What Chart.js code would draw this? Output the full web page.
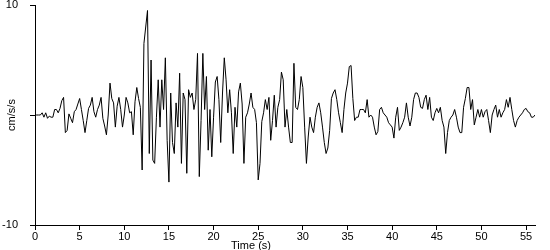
<!DOCTYPE html>
<html>
<head>
<meta charset="utf-8">
<script src="https://cdn.jsdelivr.net/npm/chart.js@4"></script>
<style>
  html, body { margin: 0; padding: 0; background: #fff; }
  #wrap { width: 550px; height: 250px; }
</style>
</head>
<body>
<div id="wrap"><canvas id="quake"></canvas></div>
<script>
// sample step of the record (seconds)
var dt = 0.2;

// ground acceleration, cm/s/s, one value every dt
var accel = [
  0, 0, 0, 0, 0.2, -0.2, 0.2, -0.3, -0.1, -0.2,
  -0.2, 0.5, 0.5, 0.2, 0.6, 1.3, 1.6, -1.6, -1.4, 0.1,
  -0.3, -0.7, 0.3, 0.5, 1.0, 1.5, 0.5, -0.5, -1.6, -0.5,
  0.6, 0.9, 1.6, 0.3, -0.2, 0.5, 0.9, 1.6, -0.3, -1.0,
  -1.8, 0, 2.9, 1.5, 1.1, -1.1, 0.8, 1.6, 0.5, -1.1,
  0, 1.6, 1.1, 0.2, 0.3, -1.8, 1.2, 2.5, 1.5, 0.7,
  -5.0, 6.5, 8.0, 9.5, -3.5, 5.0, -4.1, -4.4, -0.2, 3.2,
  -1.1, 3.2, 0.5, 5.2, -2.3, -6.1, 2.0, -2.5, -3.5, 1.1,
  -1.1, 3.8, -4.4, 2.0, 1.4, -5.3, 2.3, 1.6, 2.0, 0.5,
  1.4, 5.6, -5.6, -0.5, 5.6, 0.5, 3.5, -3.2, 0.5, -3.8,
  -0.2, 3.0, 3.5, 1.4, -2.5, 2.0, 5.2, 3.2, 0.2, 2.3,
  0.2, -3.5, 0.7, -1.1, 2.1, 2.9, 1.0, -4.4, -0.2, 0.2,
  1.0, 2.0, 0.7, 0.5, -0.7, -5.9, -4.4, -0.6, 0.2, 1.4,
  0.5, 1.6, -2.3, -0.5, 1.8, -1.1, 0.7, 1.4, 3.9, 3.2,
  -1.1, 0.5, -1.1, -2.5, -2.5, 4.7, 0.7, 0.5, 1.4, 3.5,
  2.5, -1.1, -4.4, -2.0, -0.2, -1.1, -1.6, -0.2, 0.7, 1.1,
  0.2, -1.1, -2.5, -3.5, -3.0, -1.4, 1.5, 2.0, 2.3, 1.4,
  0.2, -0.7, -1.6, 0.5, 2.0, 2.9, 4.4, 4.5, 1.5, -0.5,
  -0.2, -0.2, 0.5, 0.5, 0.5, 0.2, 1.4, -0.2, 0, -0.2,
  -1.1, -1.8, -1.5, 0.5, 0.7, 0.2, 0, -0.2, -0.7, -0.9,
  -1.1, -2.1, -0.2, 0.7, -1.4, -1.1, -0.7, -0.2, 1.1, -0.2,
  -1.0, -0.2, 1.4, 2.0, 2.0, 1.6, 0.7, 0.6, 1.4, 1.8,
  0.5, 1.6, -0.2, -0.5, 0.2, 0.6, 0.2, 0.7, -0.5, -1.1,
  -3.5, -1.6, -0.5, -0.2, 0, 0.5, -0.2, -1.1, -1.6, -1.6,
  0.7, 1.5, 2.5, 2.5, 0.5, 1.4, -0.9, -0.2, 0.5, -0.2,
  0.5, -0.2, 0.3, 0.5, -0.5, -1.6, 0, 0.5, 0.9, -0.2,
  0.5, -0.2, 0.2, 0.5, 1.4, 0.7, 1.6, 0.5, -0.5, -1.1,
  -0.5, -0.2, 0, 0.2, 0.5, 0.6, 0.3, 0.2, -0.2, -0.2, 0
];

var x_ticks = [0, 5, 10, 15, 20, 25, 30, 35, 40, 45, 50, 55];
var y_ticks = [-10, 0, 10];
var y_labels = ["-10", "", "10"];
var x_title = "Time (s)";
var y_title = "cm/s/s";

var points = [];
for (var i = 0; i < accel.length; i++) {
  points.push({ x: Math.round(i * dt * 100) / 100, y: accel[i] });
}

var font_fam = "'Liberation Sans', Arial, sans-serif";
Chart.defaults.font.family = font_fam;
Chart.defaults.font.size = 11;
Chart.defaults.color = "#000";

// axis titles drawn by hand so they sit where the original has them
var axis_titles = {
  id: "axis_titles",
  afterDraw: function (chart) {
    var c = chart.ctx;
    c.save();
    c.fillStyle = "#000";
    c.font = "11px " + font_fam;
    c.textAlign = "center";
    c.textBaseline = "middle";
    c.fillText(x_title, 251, 246);
    c.translate(12, chart.chartArea.top + (chart.chartArea.bottom - chart.chartArea.top) / 2);
    c.rotate(-Math.PI / 2);
    c.fillText(y_title, 0, 0);
    c.restore();
  }
};

var ctx = document.getElementById("quake").getContext("2d");
var chart = new Chart(ctx, {
  type: "line",
  data: {
    datasets: [{
      data: points,
      borderColor: "#000",
      borderWidth: 1,
      pointRadius: 0,
      tension: 0,
      fill: false
    }]
  },
  options: {
    responsive: true,
    maintainAspectRatio: false,
    animation: false,
    layout: {
      padding: { top: 5, right: 15, left: 0, bottom: 0 }
    },
    scales: {
      x: {
        type: "linear",
        min: 0,
        max: 56,
        afterBuildTicks: function (s) {
          s.ticks = x_ticks.map(function (v) { return { value: v }; });
        },
        afterFit: function (s) { s.height = 25; },
        grid: { drawOnChartArea: false, drawTicks: true, tickLength: 5, color: "#000" },
        border: { display: true, color: "#000", width: 1 },
        ticks: { padding: 0, maxRotation: 0, autoSkip: false }
      },
      y: {
        min: -10,
        max: 10,
        afterBuildTicks: function (s) {
          s.ticks = y_ticks.map(function (v) { return { value: v }; });
        },
        afterFit: function (s) {
          s.width = 35;
          s.paddingTop = 0;   // let the top label hang over the edge
          s.paddingBottom = 0;
        },
        grid: { drawOnChartArea: false, drawTicks: true, tickLength: 5, color: "#000" },
        border: { display: true, color: "#000", width: 1 },
        ticks: {
          padding: 12,
          callback: function (v) {
            var idx = y_ticks.indexOf(v);
            return idx >= 0 ? y_labels[idx] : "";
          }
        }
      }
    },
    plugins: {
      legend: { display: false },
      tooltip: { enabled: false }
    }
  },
  plugins: [axis_titles]
});
</script>
</body>
</html>
